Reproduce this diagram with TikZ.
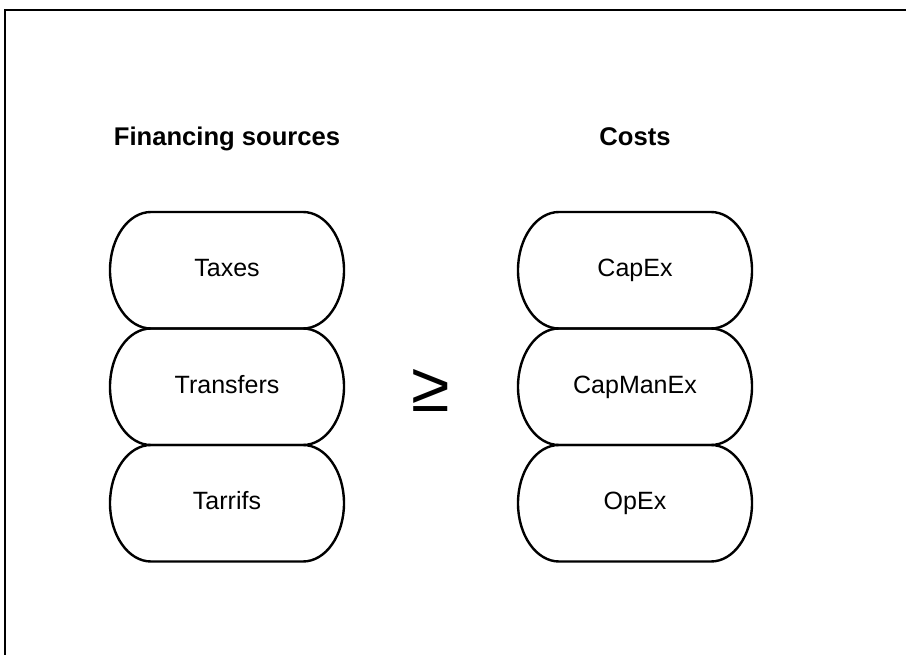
\documentclass[tikz,border=0pt]{standalone}
\usepackage{fontspec}
\setmainfont{Liberation Sans}
\usepackage{tikz}
\usetikzlibrary{positioning,calc}
\newcommand{\pillrx}{41pt}
\newcommand{\pillry}{58.25pt}

\begin{document}
\begin{tikzpicture}[every node/.style={font=\fontsize{25}{29}\selectfont},
    item/.style={minimum width=234pt,minimum height=116.5pt,inner sep=0pt,outer sep=0pt,
      text height=18pt,text depth=5pt},
    head/.style={font=\fontsize{25.6}{30}\selectfont\bfseries,inner sep=0pt},
    outline/.style={line width=2.4pt,black},
    relation/.style={font=\fontsize{70}{74}\selectfont,inner sep=0pt}]
    \useasboundingbox (0,0) rectangle (906pt,-655pt);
    % frame, runs off the right and bottom edges
    \draw[outline] (5pt,-655pt) -- (5pt,-10pt) -- (906pt,-10pt);
    \node[item] (taxes) at (227pt,-270.25pt) {Taxes};
    \node[item,below=0pt of taxes] (transfers) {Transfers};
    \node[item,below=0pt of transfers] (tarrifs) {Tarrifs};
    \node[item,right=174pt of taxes] (capex) {CapEx};
    \node[item,below=0pt of capex] (capmanex) {CapManEx};
    \node[item,below=0pt of capmanex] (opex) {OpEx};
    \node[head,above=66pt of taxes,anchor=base] (sources) {Financing sources};
    \node[head,above=66pt of capex,anchor=base] (costs) {Costs};
    \node[relation] (geq) at ($(transfers.east)!0.5!(capmanex.west)+(0,-4pt)$) {≥};
    % pill outlines with flattened ends
    \foreach \n in {taxes,transfers,tarrifs,capex,capmanex,opex}
      \draw[outline] ([xshift=\pillrx]\n.north west) -- ([xshift=-\pillrx]\n.north east)
        arc[start angle=90,end angle=-90,x radius=\pillrx,y radius=\pillry]
        -- ([xshift=\pillrx]\n.south west)
        arc[start angle=270,end angle=90,x radius=\pillrx,y radius=\pillry] -- cycle;
\end{tikzpicture}
\end{document}
